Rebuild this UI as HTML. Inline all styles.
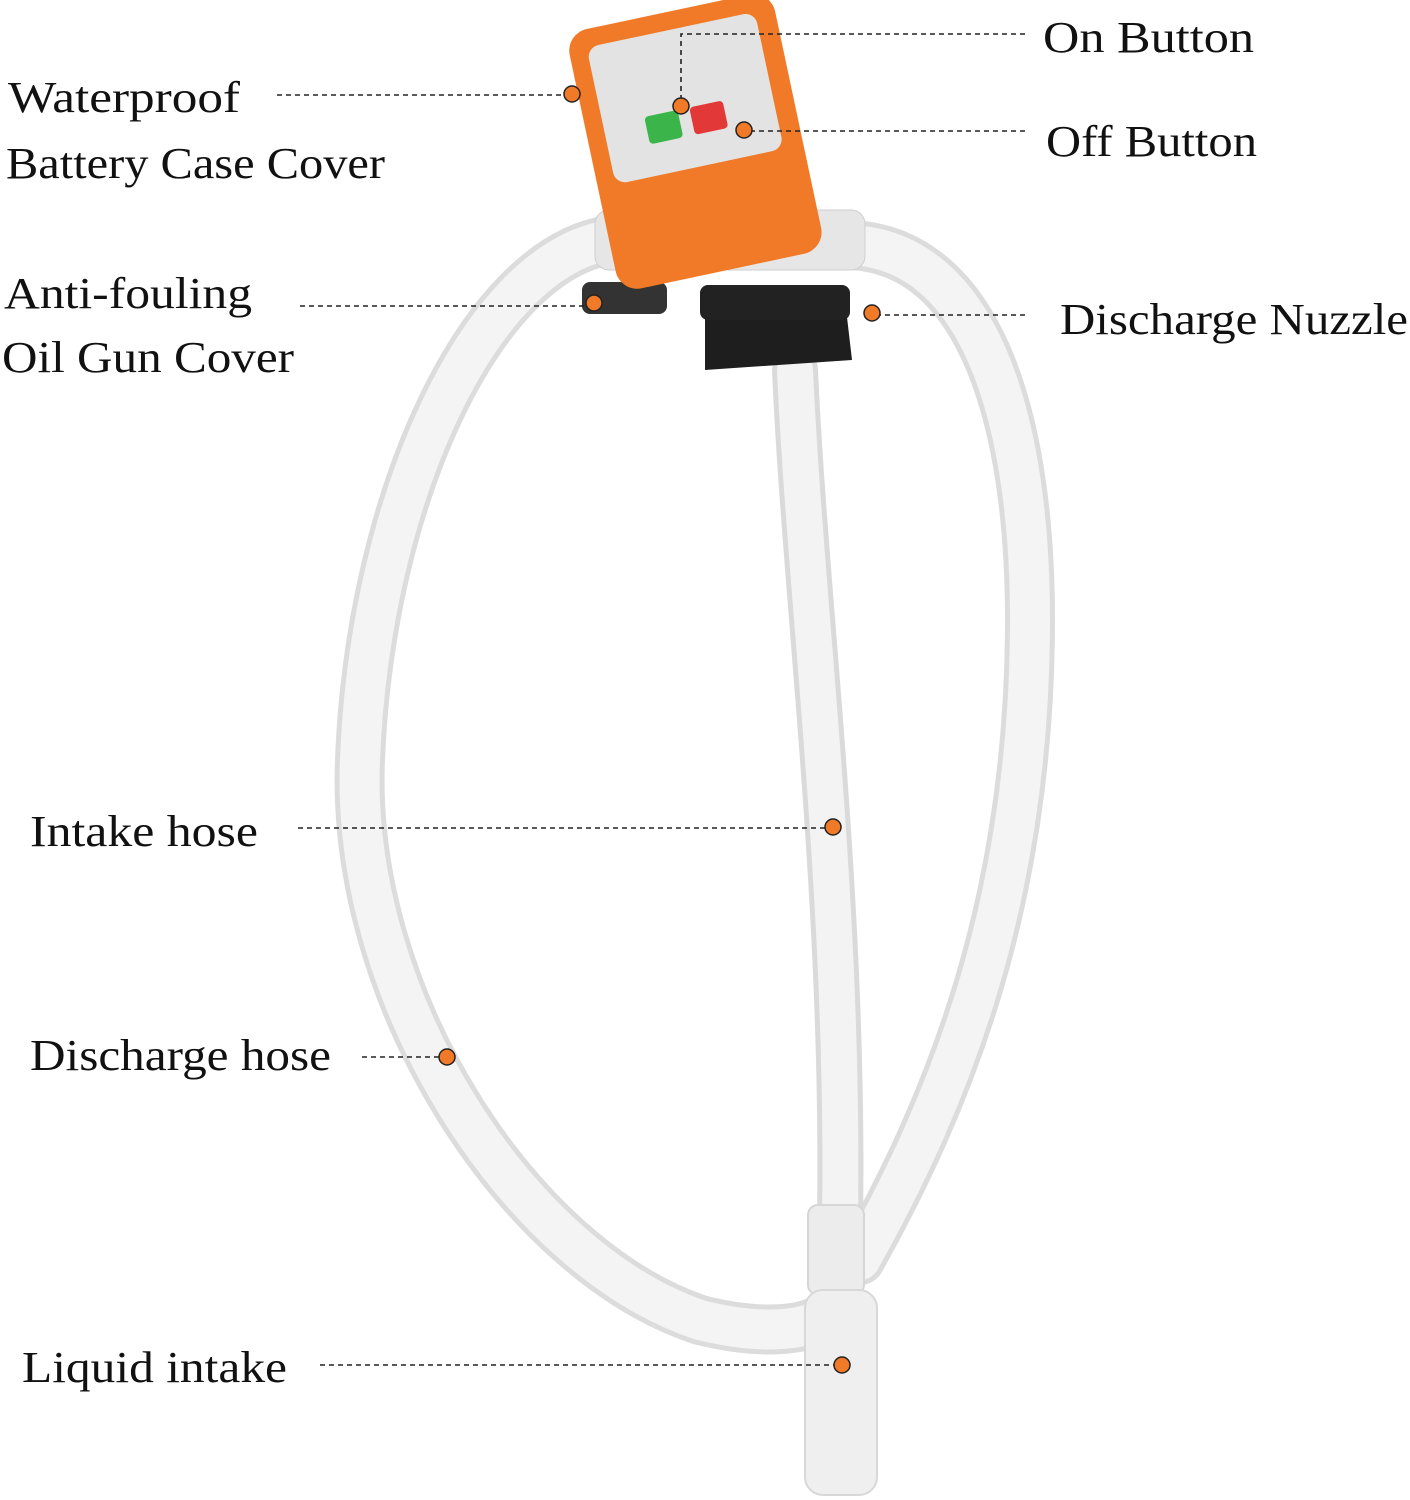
<!DOCTYPE html>
<html><head><meta charset="utf-8"><style>
html,body{margin:0;padding:0;background:#fff;}
svg{display:block}
text{font-family:"Liberation Serif",serif;font-size:44px;fill:#111;}
</style></head><body>
<svg width="1410" height="1500" viewBox="0 0 1410 1500" xmlns="http://www.w3.org/2000/svg">
<rect width="1410" height="1500" fill="#fff"/>
<g fill="none" stroke-linecap="round">
<path d="M610,240 C480,260 370,500 360,760 C350,1000 520,1260 700,1320 C760,1335 800,1330 820,1320" stroke="#dcdcdc" stroke-width="50"/>
<path d="M610,240 C480,260 370,500 360,760 C350,1000 520,1260 700,1320 C760,1335 800,1330 820,1320" stroke="#f4f4f4" stroke-width="40"/>
<path d="M850,245 C980,250 1030,420 1030,620 C1030,900 950,1100 860,1260" stroke="#dcdcdc" stroke-width="50"/>
<path d="M850,245 C980,250 1030,420 1030,620 C1030,900 950,1100 860,1260" stroke="#f4f4f4" stroke-width="40"/>
<path d="M795,370 C805,600 845,900 840,1220" stroke="#dadada" stroke-width="46"/>
<path d="M795,370 C805,600 845,900 840,1220" stroke="#f3f3f3" stroke-width="36"/>
</g>
<rect x="808" y="1205" width="56" height="90" rx="10" fill="#ececec" stroke="#d6d6d6" stroke-width="2"/>
<rect x="805" y="1290" width="72" height="205" rx="18" fill="#efefef" stroke="#d8d8d8" stroke-width="2"/>
<rect x="595" y="210" width="270" height="60" rx="14" fill="#e6e6e6" stroke="#cfcfcf"/>
<rect x="582" y="282" width="85" height="32" rx="8" fill="#333"/>
<g transform="rotate(-12 690 140)">
<rect x="590" y="10" width="210" height="265" rx="22" fill="#f07a28"/>
<rect x="608" y="28" width="172" height="140" rx="12" fill="#e3e3e3"/>
<rect x="650" y="108" width="34" height="28" rx="4" fill="#3bb54a"/>
<rect x="696" y="108" width="34" height="28" rx="4" fill="#e23838"/>
</g>
<path d="M705,300 L845,300 L852,360 L705,370 Z" fill="#1e1e1e"/>
<rect x="700" y="285" width="150" height="35" rx="8" fill="#222"/>
<g stroke="#222" stroke-width="1.6" stroke-dasharray="5,4" fill="none">
<line x1="277" y1="95" x2="572" y2="95"/>
<polyline points="1025,34 681,34 681,106"/>
<line x1="1025" y1="131" x2="744" y2="131"/>
<line x1="300" y1="306" x2="594" y2="306"/>
<line x1="1025" y1="315" x2="872" y2="315"/>
<line x1="298" y1="828" x2="833" y2="828"/>
<line x1="362" y1="1057" x2="447" y2="1057"/>
<line x1="320" y1="1365" x2="842" y2="1365"/>
</g>
<g fill="#f07a28" stroke="#222" stroke-width="1.5">
<circle cx="572" cy="94" r="8"/>
<circle cx="681" cy="106" r="8"/>
<circle cx="744" cy="130" r="8"/>
<circle cx="594" cy="303" r="8"/>
<circle cx="872" cy="313" r="8"/>
<circle cx="833" cy="827" r="8"/>
<circle cx="447" cy="1057" r="8"/>
<circle cx="842" cy="1365" r="8"/>
</g>
<text x="8" y="112" textLength="232" lengthAdjust="spacingAndGlyphs">Waterproof</text>
<text x="6" y="178" textLength="379" lengthAdjust="spacingAndGlyphs">Battery Case Cover</text>
<text x="4" y="308" textLength="248" lengthAdjust="spacingAndGlyphs">Anti-fouling</text>
<text x="2" y="372" textLength="292" lengthAdjust="spacingAndGlyphs">Oil Gun Cover</text>
<text x="1043" y="52" textLength="211" lengthAdjust="spacingAndGlyphs">On Button</text>
<text x="1046" y="156" textLength="211" lengthAdjust="spacingAndGlyphs">Off Button</text>
<text x="1060" y="334" textLength="348" lengthAdjust="spacingAndGlyphs">Discharge Nuzzle</text>
<text x="30" y="846" textLength="228" lengthAdjust="spacingAndGlyphs">Intake hose</text>
<text x="30" y="1070" textLength="301" lengthAdjust="spacingAndGlyphs">Discharge hose</text>
<text x="22" y="1382" textLength="265" lengthAdjust="spacingAndGlyphs">Liquid intake</text>
</svg>
</body></html>
